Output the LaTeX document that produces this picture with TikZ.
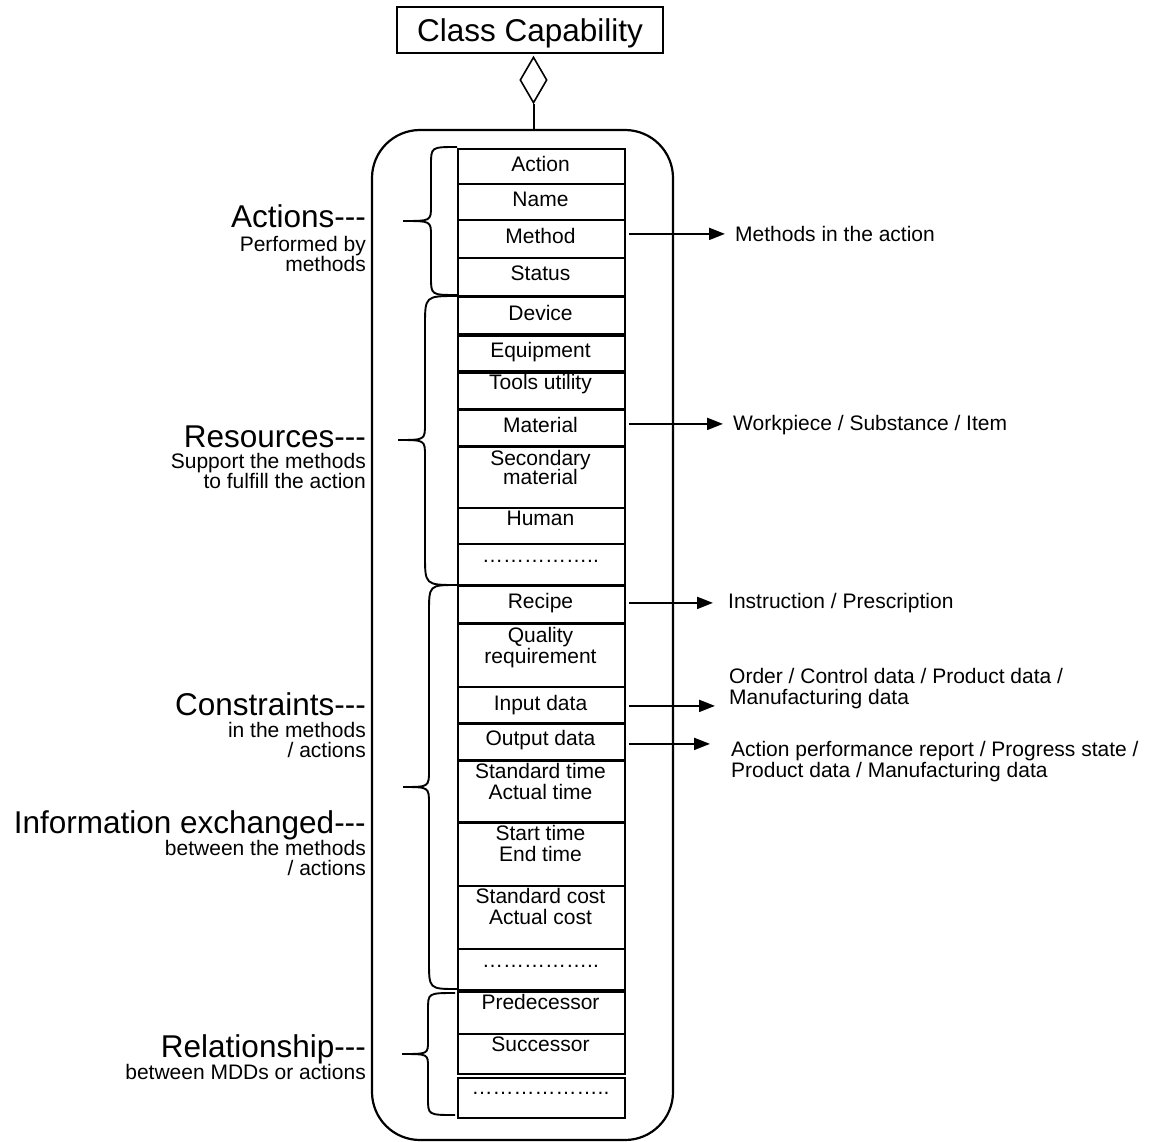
\documentclass[tikz,border=0pt]{standalone}
\usepackage{fontspec}
\setmainfont{Liberation Sans}
\usetikzlibrary{arrows.meta,shapes.geometric}

% one attribute row of the capability class: name, top, bottom, text baseline, text
\newcommand\mddcell[5]{%
  \node[cell, minimum height={(#3-#2)*1pt}, anchor=north west] (#1) at (457,#2) {};
  \node[celltext] (#1-t) at (540.5,#4) {#5};
}
% curly brace opening to the right: x end, y top, y bottom, x body, x tip, y tip, end radius, tip radius
\newcommand\sidebrace[8]{%
  \draw[bracepath] (#1,#2) .. controls (#4,#2) .. (#4,#2+#7) -- (#4,#6-#8)
    .. controls (#4,#6) .. (#5,#6) .. controls (#4,#6) .. (#4,#6+#8)
    -- (#4,#3-#7) .. controls (#4,#3) .. (#1,#3);
}
\newcommand\twolines[2]{\begin{tabular}[t]{@{}c@{}}#1\\#2\end{tabular}}
% three separate hyphens, no dash ligature
\newcommand\trail{-{}-{}-}

\begin{document}
\begin{tikzpicture}[x=1pt,y=-1pt,
  cell/.style={draw, line width=1.8pt, rectangle, minimum width=167pt, inner sep=0pt},
  celltext/.style={anchor=base, inner sep=0pt, font=\fontsize{21}{20}\selectfont},
  bigtag/.style={anchor=base east, inner sep=0pt, font=\fontsize{31.5}{36}\selectfont},
  subtag/.style={anchor=base east, inner sep=0pt, font=\fontsize{21}{18.5}\selectfont},
  outtag/.style={anchor=base west, inner sep=0pt, font=\fontsize{21}{20}\selectfont},
  bracepath/.style={line width=1.9pt},
  flow/.style={line width=2pt, -{Triangle[length=16pt,width=12pt]}, shorten <=3pt}]

\path[fill=white] (0,0) rectangle (1169,1142);
\useasboundingbox (0,0) rectangle (1169,1142);

% class header and aggregation
\node[draw, line width=1.8pt, minimum width=266pt, minimum height=46pt, inner sep=0pt,
      text height=22.5pt, text depth=0pt, font=\fontsize{31.5}{36}\selectfont]
      (title) at (530,30) {Class Capability};
\node[diamond, draw, line width=1.6pt, minimum width=27pt, minimum height=46pt, inner sep=0pt]
      (agg) at (533.5,80) {};
\node[draw, line width=2.2pt, rounded corners=48pt, minimum width=301pt,
      minimum height=1010pt, inner sep=0pt] (outer) at (522.5,635) {};
\draw[line width=2pt] (agg.south) -- (agg.south |- outer.north);

% attribute rows
\mddcell{action}{148}{183}{172}{Action}
\mddcell{name}{183}{219}{207}{Name}
\mddcell{method}{219}{257}{243}{Method}
\mddcell{status}{257}{295}{280}{Status}
\mddcell{device}{296}{333}{320}{Device}
\mddcell{equip}{335}{370}{357}{Equipment}
\mddcell{tools}{372}{408}{389}{Tools utility}
\mddcell{material}{409}{445}{432}{Material}
\mddcell{secmat}{446}{507}{465}{\begin{tabular}[t]{@{}c@{}}Secondary\\[-2pt]material\end{tabular}}
\mddcell{human}{507}{543}{525}{Human}
\mddcell{resmore}{543}{584}{562}{……………..}
\mddcell{recipe}{585}{622}{608}{Recipe}
\mddcell{quality}{623}{686}{642}{\twolines{Quality}{requirement}}
\mddcell{input}{686}{722}{710}{Input data}
\mddcell{output}{723}{759}{745}{Output data}
\mddcell{stdtime}{760}{821}{778}{\twolines{Standard time}{Actual time}}
\mddcell{starttime}{822}{885}{840}{\twolines{Start time}{End time}}
\mddcell{stdcost}{885}{948}{903}{\twolines{Standard cost}{Actual cost}}
\mddcell{conmore}{948}{989}{967}{……………..}
\mddcell{pred}{991}{1033}{1009}{Predecessor}
\mddcell{succ}{1033}{1073}{1051}{Successor}
\mddcell{relmore}{1077}{1117}{1094}{………………..}

% grouping braces
\sidebrace{457}{147}{295}{431}{403}{221}{18}{15}
\sidebrace{457}{296}{585}{425}{398}{440}{30}{16}
\sidebrace{457}{585}{989}{429}{403}{787}{28}{17}
\sidebrace{455}{993}{1115}{428}{402}{1054}{17}{13}

% group captions
\node[bigtag] (actTag) at (366,227) {Actions\trail};
\node[subtag] (actSub) at (366,251) {\begin{tabular}[t]{@{}r@{}}Performed by\\methods\end{tabular}};
\node[bigtag] (resTag) at (366,447) {Resources\trail};
\node[subtag] (resSub) at (366,468) {\begin{tabular}[t]{@{}r@{}}Support the methods\\to fulfill the action\end{tabular}};
\node[bigtag] (conTag) at (366,715) {Constraints\trail};
\node[subtag] (conSub) at (366,737) {\begin{tabular}[t]{@{}r@{}}in the methods\\/ actions\end{tabular}};
\node[bigtag] (infTag) at (366,833) {Information exchanged\trail};
\node[subtag] (infSub) at (366,855) {\begin{tabular}[t]{@{}r@{}}between the methods\\/ actions\end{tabular}};
\node[bigtag] (relTag) at (366,1057) {Relationship\trail};
\node[subtag] (relSub) at (366,1079) {between MDDs or actions};

% refinements of selected attributes
\node[outtag] (mOut) at (735,241) {Methods in the action};
\node[outtag] (matOut) at (733,430) {Workpiece / Substance / Item};
\node[outtag] (recOut) at (728,608) {Instruction / Prescription};
\node[outtag] (inOut) at (729,683) {\begin{tabular}[t]{@{}l@{}}Order / Control data / Product data /\\Manufacturing data\end{tabular}};
\node[outtag] (outOut) at (731,756) {\begin{tabular}[t]{@{}l@{}}Action performance report / Progress state /\\Product data / Manufacturing data\end{tabular}};

\draw[flow, shorten >=10pt] ([yshift=5pt]method.east) -- ([yshift=5pt]method.east -| mOut.west);
\draw[flow, shorten >=10pt] ([yshift=4pt]material.east) -- ([yshift=4pt]material.east -| matOut.west);
\draw[flow, shorten >=15pt] ([yshift=1.5pt]recipe.east) -- ([yshift=1.5pt]recipe.east -| recOut.west);
\draw[flow, shorten >=14pt] ([yshift=-1pt]input.east) -- ([yshift=-1pt]input.east -| inOut.west);
\draw[flow, shorten >=21pt] ([yshift=-2pt]output.east) -- ([yshift=-2pt]output.east -| outOut.west);

\end{tikzpicture}
\end{document}
